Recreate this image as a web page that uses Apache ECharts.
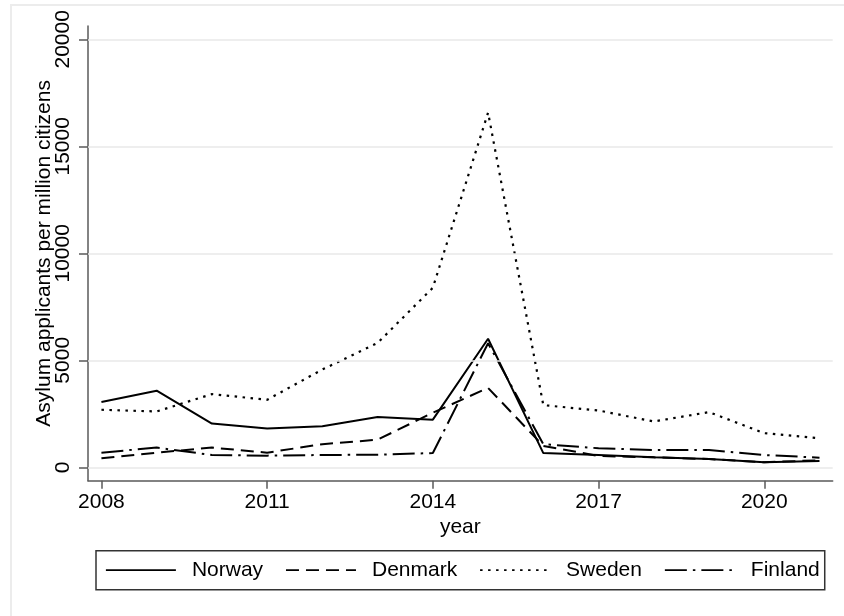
<!DOCTYPE html>
<html>
<head>
<meta charset="utf-8">
<script src="https://cdn.jsdelivr.net/npm/echarts@6/dist/echarts.min.js"></script>
<style>
html,body{margin:0;padding:0;background:#fff;}
#chart{width:844px;height:616px;}
</style>
</head>
<body>
<div id="chart"></div>
<script>
// ---- data ----
var years   = [2008, 2009, 2010, 2011, 2012, 2013, 2014, 2015, 2016, 2017, 2018, 2019, 2020, 2021];
var norway  = [3050, 3580, 2045, 1810, 1920, 2350, 2225, 6005, 665, 575, 465, 390, 235, 295];
var denmark = [420, 685, 920, 685, 1080, 1290, 2550, 3710, 1000, 530, 465, 385, 235, 330];
var sweden  = [2690, 2610, 3420, 3155, 4570, 5810, 8390, 16575, 2905, 2655, 2140, 2580, 1595, 1360];
var finland = [685, 920, 575, 545, 575, 590, 665, 5800, 1080, 890, 810, 810, 575, 450];
var yTicks  = [0, 5000, 10000, 15000, 20000];
var xTicks  = [2008, 2011, 2014, 2017, 2020];
var seriesNames = ['Norway', 'Denmark', 'Sweden', 'Finland'];

function pairs(vals) { return years.map(function (y, i) { return [y, vals[i]]; }); }

var FONT = '"Liberation Sans", Arial, sans-serif';
var AXIS_COLOR = '#5a5a5a';
var LINE_COLOR = '#000000';

var chart = echarts.init(document.getElementById('chart'), null, {renderer: 'canvas'});

function lineSeries(name, vals, type, w, z) {
  return {
    name: name,
    type: 'line',
    data: pairs(vals),
    symbol: 'none',
    z: z,
    lineStyle: {color: LINE_COLOR, width: w, type: type},
    itemStyle: {color: LINE_COLOR},
    emphasis: {disabled: true},
    animation: false
  };
}

var option = {
  backgroundColor: '#ffffff',
  animation: false,
  textStyle: {fontFamily: FONT},
  graphic: [{
    type: 'rect',
    shape: {x: 11, y: 5, width: 860, height: 640},
    style: {fill: 'none', stroke: '#ececec', lineWidth: 2},
    silent: true,
    z: -10
  }],
  grid: {left: 88, right: 11.3, top: 26, bottom: 135.3, containLabel: false},
  xAxis: {
    type: 'value',
    min: 2007.757,
    max: 2021.239,
    name: 'year',
    nameLocation: 'middle',
    nameGap: 36,
    nameMoveOverlap: false,
    nameTextStyle: {fontSize: 21, color: '#000', fontFamily: FONT},
    axisLine: {show: true, onZero: false, lineStyle: {color: AXIS_COLOR, width: 1.5}},
    axisTick: {show: true, length: 8, customValues: xTicks, lineStyle: {color: AXIS_COLOR, width: 1.5}},
    axisLabel: {show: true, customValues: xTicks, fontSize: 21, color: '#000', margin: 11, fontFamily: FONT,
      formatter: function (v) { return String(v); }},
    splitLine: {show: false}
  },
  yAxis: {
    type: 'value',
    min: -626,
    max: 20621,
    name: 'Asylum applicants per million citizens',
    nameLocation: 'middle',
    nameGap: 33,
    nameRotate: 90,
    nameMoveOverlap: false,
    nameTextStyle: {fontSize: 21, color: '#000', fontFamily: FONT},
    axisLine: {show: true, onZero: false, lineStyle: {color: AXIS_COLOR, width: 1.5}},
    axisTick: {show: true, length: 9, customValues: yTicks, lineStyle: {color: AXIS_COLOR, width: 1.5}},
    axisLabel: {show: true, customValues: yTicks, rotate: 90, fontSize: 21, color: '#000', margin: 14, fontFamily: FONT,
      formatter: function (v) { return String(v); }},
    splitLine: {show: false}
  },
  legend: {
    data: seriesNames,
    left: 96,
    top: 550.7,
    orient: 'horizontal',
    padding: [9, 5, 9, 9],
    itemWidth: 70,
    itemHeight: 14,
    itemGap: 22,
    borderColor: '#333333',
    borderWidth: 1.5,
    backgroundColor: '#ffffff',
    selectedMode: false,
    itemStyle: {opacity: 0, borderWidth: 0},
    textStyle: {fontSize: 21, color: '#000', fontFamily: FONT, padding: [0, 0, 0, 11]},
    lineStyle: {width: 1.8}
  },
  series: [
    {
      name: '_grid',
      type: 'line',
      data: [],
      z: 1,
      silent: true,
      markLine: {
        silent: true,
        symbol: ['none', 'none'],
        label: {show: false},
        lineStyle: {color: '#e8e8e8', width: 1.6, type: 'solid'},
        emphasis: {disabled: true},
        data: yTicks.map(function (v) { return {yAxis: v}; })
      }
    },
    lineSeries('Norway', norway, 'solid', 2, 3),
    lineSeries('Denmark', denmark, [13, 7], 2, 3),
    lineSeries('Sweden', sweden, [2.5, 5.5], 2.2, 3),
    lineSeries('Finland', finland, [22, 6, 2.5, 6], 2, 3)
  ]
};

chart.setOption(option);
</script>
</body>
</html>
